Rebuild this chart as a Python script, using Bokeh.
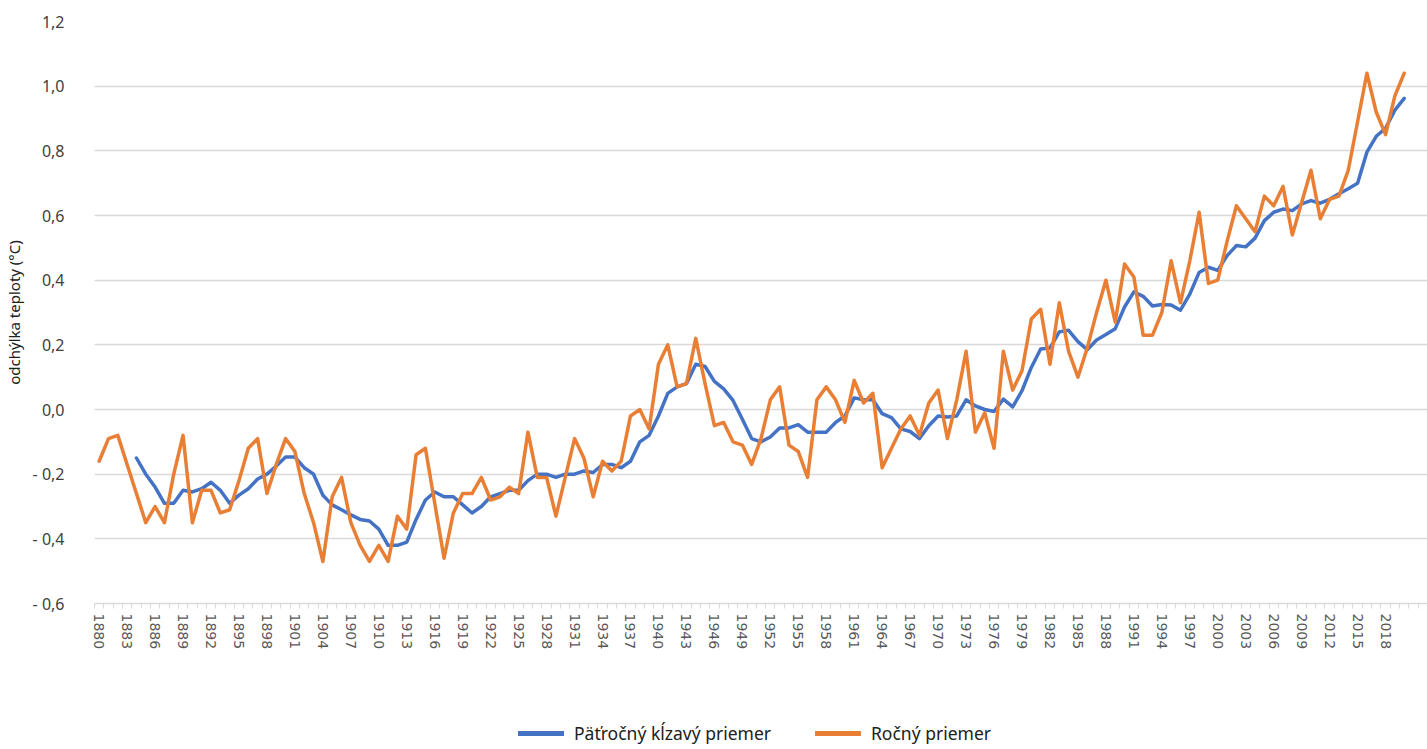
from bokeh.plotting import figure
from bokeh.layouts import column
from bokeh.models import (Range1d, FixedTicker, CustomJSTickFormatter, Legend, LegendItem)
from bokeh.embed import file_html
from bokeh.resources import INLINE

years = list(range(1880, 2021))

annual = [
    -0.16, -0.09, -0.08, -0.17, -0.26, -0.35, -0.30, -0.35, -0.20, -0.08,
    -0.35, -0.25, -0.25, -0.32, -0.31, -0.22, -0.12, -0.09, -0.26, -0.17,
    -0.09, -0.13, -0.26, -0.35, -0.47, -0.27, -0.21, -0.35, -0.42, -0.47,
    -0.42, -0.47, -0.33, -0.37, -0.14, -0.12, -0.29, -0.46, -0.32, -0.26,
    -0.26, -0.21, -0.28, -0.27, -0.24, -0.26, -0.07, -0.21, -0.21, -0.33,
    -0.21, -0.09, -0.15, -0.27, -0.16, -0.19, -0.16, -0.02, 0.00, -0.06,
    0.14, 0.20, 0.07, 0.08, 0.22, 0.08, -0.05, -0.04, -0.10, -0.11,
    -0.17, -0.09, 0.03, 0.07, -0.11, -0.13, -0.21, 0.03, 0.07, 0.03,
    -0.04, 0.09, 0.02, 0.05, -0.18, -0.12, -0.06, -0.02, -0.08, 0.02,
    0.06, -0.09, 0.03, 0.18, -0.07, -0.01, -0.12, 0.18, 0.06, 0.12,
    0.28, 0.31, 0.14, 0.33, 0.18, 0.10, 0.19, 0.30, 0.40, 0.27,
    0.45, 0.41, 0.23, 0.23, 0.30, 0.46, 0.33, 0.46, 0.61, 0.39,
    0.40, 0.52, 0.63, 0.59, 0.55, 0.66, 0.63, 0.69, 0.54, 0.64,
    0.74, 0.59, 0.65, 0.66, 0.74, 0.89, 1.04, 0.92, 0.85, 0.97,
    1.04,
]

ma_years = list(range(1884, 2021))
ma5 = [
    -0.15, -0.20, -0.24, -0.29, -0.29, -0.25,
    -0.255, -0.245, -0.225, -0.25, -0.29, -0.265, -0.245, -0.215, -0.20, -0.175,
    -0.147, -0.147, -0.18, -0.20, -0.265, -0.295, -0.31, -0.326, -0.34, -0.345,
    -0.37, -0.42, -0.42, -0.41, -0.34, -0.28, -0.255, -0.27, -0.27, -0.295,
    -0.32, -0.30, -0.27, -0.26, -0.25, -0.25, -0.22, -0.20, -0.20, -0.21,
    -0.20, -0.20, -0.19, -0.195, -0.17, -0.17, -0.18, -0.16, -0.10, -0.08,
    -0.02, 0.05, 0.07, 0.08, 0.14, 0.133, 0.087, 0.064, 0.028, -0.03,
    -0.09, -0.10, -0.085, -0.057, -0.057, -0.047, -0.07, -0.07, -0.07, -0.04,
    -0.02, 0.036, 0.03, 0.03, -0.013, -0.025, -0.06, -0.068, -0.09, -0.05,
    -0.02, -0.023, -0.02, 0.03, 0.011, 0.0, -0.006, 0.032, 0.008, 0.058,
    0.13, 0.187, 0.19, 0.24, 0.245, 0.21, 0.185, 0.215, 0.232, 0.25,
    0.317, 0.364, 0.35, 0.32, 0.325, 0.323, 0.307, 0.357, 0.424, 0.44,
    0.43, 0.476, 0.507, 0.503, 0.53, 0.584, 0.61, 0.62, 0.615, 0.636,
    0.646, 0.638, 0.65, 0.667, 0.683, 0.70, 0.796, 0.845, 0.87, 0.926,
    0.962,
]

year_labels = list(range(1880, 2020, 3))
y_ticks = [-0.6, -0.4, -0.2, 0.0, 0.2, 0.4, 0.6, 0.8, 1.0, 1.2]

label_ma = "Päťročný kĺzavý priemer"
label_annual = "Ročný priemer"
y_title = "odchýlka teploty (°C)"

BLUE = "#4472C4"
ORANGE = "#E97E35"
GRID = "#d9d9d9"

p = figure(width=1427, height=700, output_backend="svg", toolbar_location=None,
           x_range=Range1d(1879.5, 2022.5), y_range=Range1d(-0.6, 1.2),
           min_border_left=92, min_border_right=0, min_border_top=21,
           min_border_bottom=97)
p.outline_line_color = None
p.background_fill_color = "white"
p.border_fill_color = "white"

p.line(ma_years, ma5, line_color=BLUE, line_width=3.5,
       line_join="round", line_cap="round")
p.line(years, annual, line_color=ORANGE, line_width=3.5,
       line_join="round", line_cap="round")

# y axis
p.yaxis.ticker = FixedTicker(ticks=y_ticks)
p.yaxis.formatter = CustomJSTickFormatter(code="""
    const v = Math.abs(tick).toFixed(1).replace('.', ',');
    return (tick < -1e-9 ? '- ' : '') + v;
""")
p.yaxis.axis_line_color = None
p.yaxis.major_tick_line_color = None
p.yaxis.minor_tick_line_color = None
p.yaxis.major_label_standoff = 24
p.yaxis.major_label_text_font = "Noto Sans"
p.yaxis.major_label_text_font_size = "16px"
p.yaxis.major_label_text_color = "#404040"
p.yaxis.axis_label = y_title
p.yaxis.axis_label_text_font = "Noto Sans"
p.yaxis.axis_label_text_font_size = "15px"
p.yaxis.axis_label_text_font_style = "normal"
p.yaxis.axis_label_text_color = "#202020"
p.yaxis.axis_label_standoff = 6

p.ygrid.grid_line_color = GRID
p.ygrid.grid_line_width = 1.5
p.ygrid.ticker = FixedTicker(ticks=y_ticks)
p.xgrid.grid_line_color = None

# x axis
minor = [1879.5 + i for i in range(144)]
p.xaxis.ticker = FixedTicker(ticks=year_labels, minor_ticks=minor)
p.xaxis.formatter = CustomJSTickFormatter(code="return tick.toFixed(0);")
p.xaxis.axis_line_color = GRID
p.xaxis.axis_line_width = 1.5
p.xaxis.major_tick_line_color = None
p.xaxis.minor_tick_line_color = GRID
p.xaxis.minor_tick_out = 5
p.xaxis.minor_tick_in = 0
p.xaxis.major_label_orientation = "vertical"
p.xaxis.major_label_standoff = 4
p.xaxis.major_label_text_font = "DejaVu Sans"
p.xaxis.major_label_text_font_size = "14px"
p.xaxis.major_label_text_color = "#595959"

# legend strip below the chart: same series drawn off-range, only their legend samples show
lg = figure(width=1427, height=49, output_backend="svg", toolbar_location=None,
            min_border=0, x_range=Range1d(1879.5, 2022.5), y_range=Range1d(10, 11))
lg.axis.visible = False
lg.grid.visible = False
lg.outline_line_color = None
r_ma = lg.line(ma_years, ma5, line_color=BLUE, line_width=5, line_cap="round")
r_an = lg.line(years, annual, line_color=ORANGE, line_width=5, line_cap="round")
legend = Legend(items=[LegendItem(label=label_ma, renderers=[r_ma]),
                       LegendItem(label=label_annual, renderers=[r_an])],
                location=(424, 4), orientation="horizontal",
                padding=0, margin=0, spacing=44, label_standoff=10,
                glyph_width=46, glyph_height=20, label_height=20,
                label_text_font="Noto Sans", label_text_font_size="17.5px",
                label_text_color="#202020",
                border_line_color=None, background_fill_alpha=0)
lg.add_layout(legend)

layout = column(p, lg, spacing=0)
open("out.html", "w").write(file_html(layout, INLINE))
